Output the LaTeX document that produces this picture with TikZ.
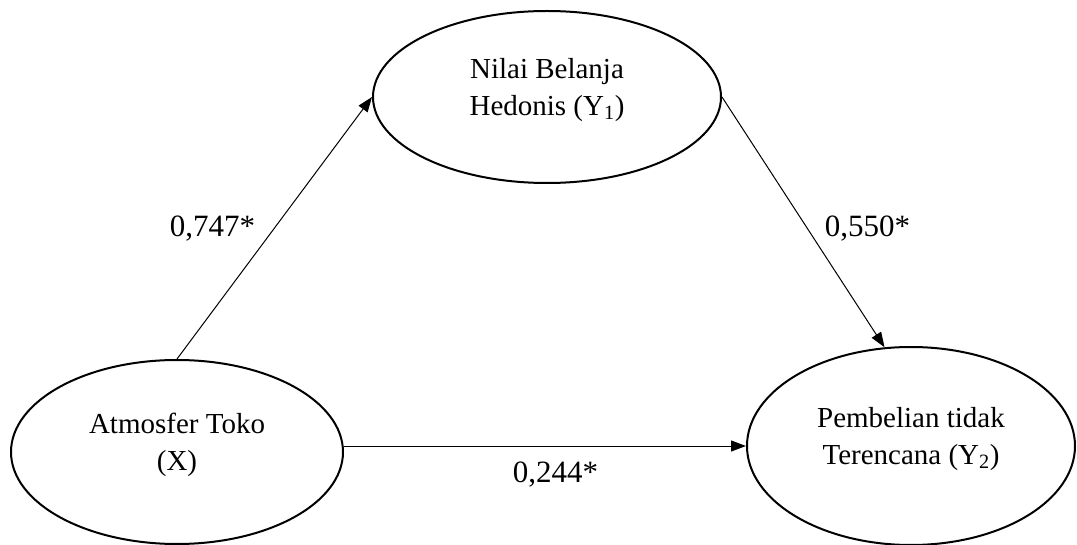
\documentclass[tikz,border=0pt]{standalone}
\usepackage{fontspec}
\setmainfont{Liberation Serif}
\usetikzlibrary{shapes.geometric,arrows.meta}
\tikzset{
  construct/.style={draw, ellipse, line width=2pt, inner sep=0pt, align=center,
    text depth=21pt, font=\fontsize{29}{37}\selectfont},
  path/.style={line width=1pt, -{Triangle[length=15pt,width=11pt]}},
  coef/.style={font=\fontsize{31}{37}\selectfont, inner sep=0pt, anchor=base}
}
\begin{document}
\begin{tikzpicture}[x=1pt, y=-1pt]
  \useasboundingbox (0,0) rectangle (1077,545);
  % latent constructs
  \node[construct, minimum width=348pt, minimum height=172pt] (y1) at (547,97)
    {Nilai Belanja\\Hedonis (Y\textsubscript{1})};
  \node[construct, minimum width=332pt, minimum height=184pt] (x) at (177,452)
    {Atmosfer Toko\\(X)};
  \node[construct, minimum width=328pt, minimum height=198pt] (y2) at (911,446)
    {Pembelian tidak\\Terencana (Y\textsubscript{2})};
  % structural paths
  \draw[path] (x.north) -- (y1.west);
  \draw[path] (y1.east) -- (y2.105);
  \draw[path] (x.east |- y2.west) -- (y2.west);
  % path coefficients
  \node[coef] (c1) at (212.5,237) {0,747*};
  \node[coef] (c2) at (867.5,237) {0,550*};
  \node[coef] (c3) at (555.5,482) {0,244*};
\end{tikzpicture}
\end{document}
